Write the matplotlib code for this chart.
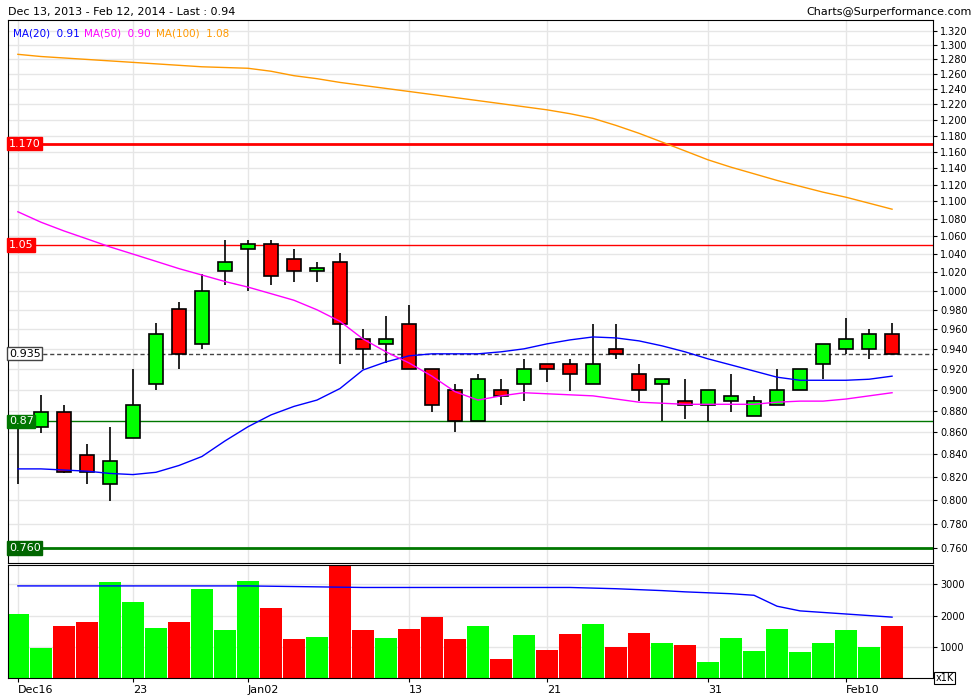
import matplotlib
matplotlib.use("Agg")
import matplotlib.pyplot as plt
import matplotlib.ticker as mticker
import numpy as np

opens  = [0.869,0.865,0.879,0.839,0.814,0.855,0.905,0.981,0.945,1.021,1.046,1.051,1.035,1.021,1.031,0.950,0.945,0.965,0.920,0.900,
          0.870,0.900,0.905,0.925,0.925,0.905,0.940,0.915,0.905,0.889,0.885,0.889,0.875,0.885,0.900,0.925,0.940,0.940,0.955]
closes = [0.869,0.879,0.824,0.824,0.834,0.885,0.955,0.935,1.000,1.031,1.051,1.016,1.021,1.025,0.965,0.940,0.950,0.920,0.885,0.870,
          0.910,0.894,0.920,0.920,0.915,0.925,0.935,0.900,0.910,0.885,0.900,0.894,0.889,0.900,0.920,0.945,0.950,0.955,0.935]
highs  = [0.870,0.895,0.885,0.849,0.865,0.920,0.966,0.988,1.018,1.056,1.056,1.056,1.046,1.031,1.041,0.960,0.973,0.985,0.920,0.905,
          0.915,0.910,0.930,0.925,0.930,0.965,0.965,0.925,0.910,0.910,0.900,0.915,0.894,0.920,0.920,0.945,0.971,0.960,0.966]
lows   = [0.814,0.859,0.823,0.814,0.799,0.855,0.900,0.920,0.940,1.006,1.000,1.006,1.010,1.010,0.925,0.920,0.926,0.920,0.879,0.860,
          0.870,0.885,0.889,0.907,0.899,0.905,0.930,0.889,0.870,0.872,0.870,0.879,0.875,0.885,0.900,0.910,0.935,0.930,0.935]
volumes = [2060,970,1680,1800,3060,2450,1610,1800,2840,1550,3100,2230,1260,1320,3600,1550,1290,1580,1970,1260,
           1680,610,1390,900,1420,1740,1000,1450,1130,1060,520,1290,870,1580,840,1130,1550,1000,1650]
ma20 = [0.827,0.827,0.826,0.825,0.823,0.822,0.824,0.830,0.838,0.852,0.865,0.876,0.884,0.890,0.901,0.919,0.927,0.933,0.935,0.935,
        0.935,0.937,0.940,0.945,0.949,0.952,0.951,0.948,0.943,0.937,0.930,0.924,0.918,0.912,0.909,0.909,0.909,0.910,0.913]
ma50 = [1.088,1.076,1.066,1.057,1.048,1.040,1.032,1.024,1.017,1.010,1.004,0.997,0.990,0.980,0.968,0.950,0.937,0.926,0.913,0.898,
        0.890,0.894,0.897,0.896,0.895,0.894,0.891,0.888,0.887,0.886,0.886,0.886,0.886,0.888,0.889,0.889,0.891,0.894,0.897]
ma100 = [1.287,1.284,1.282,1.280,1.278,1.276,1.274,1.272,1.270,1.269,1.268,1.264,1.258,1.254,1.249,1.245,1.241,1.237,1.233,1.229,
         1.225,1.221,1.217,1.213,1.208,1.202,1.193,1.183,1.172,1.161,1.150,1.141,1.133,1.125,1.118,1.111,1.105,1.098,1.091]
vol_ma = [2950,2950,2950,2950,2950,2950,2950,2950,2950,2950,2950,2940,2930,2920,2910,2900,2900,2900,2900,2900,
          2900,2900,2900,2900,2900,2880,2860,2830,2800,2760,2730,2700,2650,2300,2150,2100,2050,2000,1950]
date_ticks = [0, 5, 10, 17, 23, 30, 36]
date_labels = ["Dec16", "23", "Jan02", "13", "21", "31", "Feb10"]
levels = [1.170, 1.05, 0.935, 0.87, 0.760]
level_labels = ["1.170", "1.05", "0.935", "0.87", "0.760"]

plt.rcParams['font.family'] = ['DejaVu Sans']
fig = plt.figure(figsize=(9.8, 7.0), dpi=100)
ax = fig.add_axes([8/980, 137/700, 925/980, 543/700])
axv = fig.add_axes([8/980, 22/700, 925/980, 113/700])
n = len(opens)
x = np.arange(n)
GREEN = "#00ff00"; RED = "#ff0000"

for a in (ax, axv):
    a.set_xlim(-0.43, 39.78)
    a.yaxis.tick_right()
    a.tick_params(axis='y', labelsize=7, length=3, pad=2)
    a.set_xticks(date_ticks)
    a.grid(True, color="#e6e6e6", lw=1)
    a.set_axisbelow(True)
    for s in a.spines.values():
        s.set_color("black")

ax.set_yscale('log')
ax.set_ylim(0.748, 1.335)
yt = np.round(np.arange(0.76, 1.321, 0.02), 3)
ax.yaxis.set_major_locator(mticker.FixedLocator(yt))
ax.yaxis.set_minor_locator(mticker.NullLocator())
ax.yaxis.set_major_formatter(mticker.FuncFormatter(lambda v, p: f"{v:.3f}"))
ax.set_xticklabels([])
ax.tick_params(axis='x', length=0)

w = 0.6
for i in range(n):
    o, c, h, l = opens[i], closes[i], highs[i], lows[i]
    col = GREEN if c >= o else RED
    ax.vlines(x[i], l, h, color="black", lw=1.2, zorder=2)
    lo_, hi_ = min(o, c), max(o, c)
    if hi_ - lo_ < 0.0005:
        ax.hlines(o, x[i]-w/2, x[i]+w/2, color="black", lw=1.2, zorder=3)
    else:
        ax.bar(x[i], hi_-lo_, bottom=lo_, width=w, color=col, edgecolor="black", lw=1.2, zorder=3)

ax.plot(x, ma20, color="#0000ff", lw=1, zorder=4)
ax.plot(x, ma50, color="#ff00ff", lw=1, zorder=4)
ax.plot(x, ma100, color="#ff9900", lw=1, zorder=4)

styles = [dict(color=RED, lw=2, ls='-'), dict(color=RED, lw=1, ls='-'),
          dict(color="#444444", lw=1, ls=(0, (3, 2))), dict(color="#007700", lw=1, ls='-'),
          dict(color="#007700", lw=2, ls='-')]
boxes = [(RED, "white", RED), (RED, "white", RED), ("white", "black", "#444444"),
         ("#007700", "white", "#007700"), ("#006600", "white", "#006600")]
for lv, lab, st, (fc, tc, ec) in zip(levels, level_labels, styles, boxes):
    ax.axhline(lv, zorder=1.5, **st)
    ax.text(0.001, lv, lab, transform=ax.get_yaxis_transform(), fontsize=8, color=tc,
            va='center', ha='left', zorder=6,
            bbox=dict(boxstyle='square,pad=0.15', fc=fc, ec=ec, lw=1))

ax.text(0.005, 0.985, "MA(20)  0.91", transform=ax.transAxes, color="#0000ff", fontsize=7.5, va='top')
ax.text(0.082, 0.985, "MA(50)  0.90", transform=ax.transAxes, color="#ff00ff", fontsize=7.5, va='top')
ax.text(0.16, 0.985, "MA(100)  1.08", transform=ax.transAxes, color="#ff9900", fontsize=7.5, va='top')

vcols = [GREEN if closes[i] >= opens[i] else RED for i in range(n)]
axv.bar(x, volumes, width=0.96, color=vcols, zorder=2)
axv.plot(x, vol_ma, color="#0000ff", lw=1, zorder=3)
axv.set_ylim(0, 3620)
axv.set_yticks([1000, 2000, 3000])
axv.set_yticklabels(["1000", "2000", "3000"])
axv.set_xticklabels(date_labels, fontsize=8, ha='left')
axv.tick_params(axis='x', length=3, pad=2)
axv.text(1.003, 0.0, "x1K", transform=axv.transAxes, fontsize=7, va='center', ha='left',
         bbox=dict(boxstyle='square,pad=0.15', fc='white', ec='black', lw=0.8))

fig.text(8/980, 1-12/700, "Dec 13, 2013 - Feb 12, 2014 - Last : 0.94", fontsize=8, va='center')
fig.text(972/980, 1-12/700, "Charts@Surperformance.com", fontsize=8, va='center', ha='right')

fig.savefig("out.png", dpi=100, facecolor="white")
